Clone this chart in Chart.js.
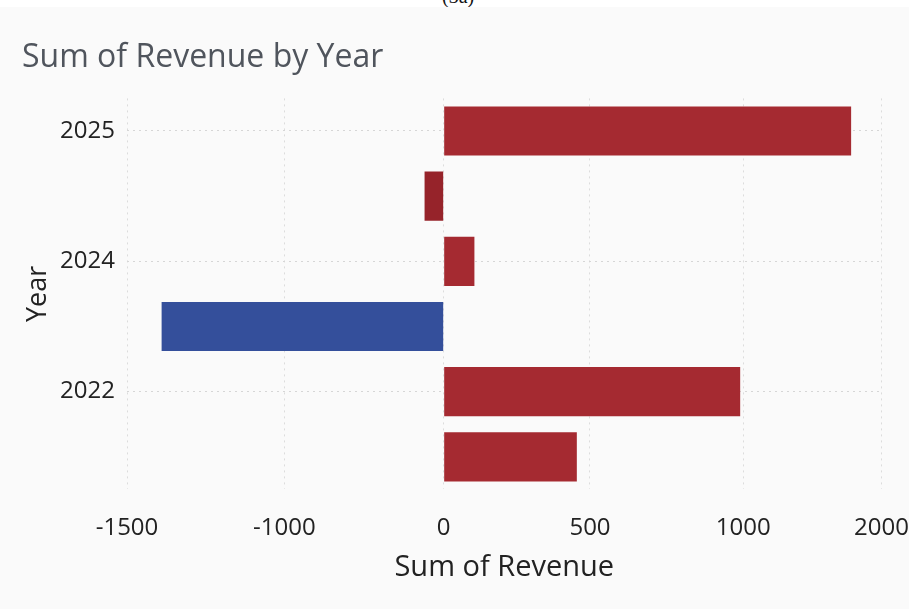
<!DOCTYPE html>
<html lang="en">
<head>
    <meta charset="UTF-8">
    <title>Sum of Revenue by Year</title>
    <script src="https://cdn.jsdelivr.net/npm/chart.js"></script>
    <style>
        html, body { margin: 0; padding: 0; background: #fafafa; }
        .caption {
            position: absolute; left: 0; top: 0; width: 909px; height: 7px;
            background: #fff; overflow: hidden; z-index: 2;
        }
        .caption span {
            position: absolute; left: 442px; top: -15px;
            font: 20px "Liberation Serif", serif; color: #111;
        }
        .chart-box { position: absolute; left: 0; top: 0; width: 909px; height: 609px; }
    </style>
</head>
<body>
    <div class="caption"><span>(3a)</span></div>
    <div class="chart-box">
        <canvas id="revenueChart"></canvas>
    </div>

<script>
    // categorias (anos) - so alguns rotulos aparecem no eixo
    const yearLabels = ['2025', '', '2024', '', '2022', ''];
    // soma da receita por barra
    const revenue = [1780, -120, 105, -1390, 990, 455];
    // rotulos do eixo x (espacados igualmente no original)
    const xTicks = [-1500, -1000, 0, 500, 1000, 2000];

    const barColors = ['#a52a31', '#96232a', '#a52a31', '#344f9b', '#a52a31', '#a52a31'];

    // escala linear por trechos: cada rotulo do eixo x fica numa posicao fixa
    class SegmentScale extends Chart.LinearScale {
        static id = 'segment';
        static defaults = { ticks: { callback: v => String(v) } };

        determineDataLimits() {
            const stops = this.options.stops;
            this.min = stops[0];
            this.max = stops[stops.length - 1];
        }
        buildTicks() {
            return this.options.stops.map(v => ({ value: v }));
        }
        getPixelForValue(value) {
            const s = this.options.stops, p = this.options.stopPos;
            let i = 0;
            while (i < s.length - 2 && value > s[i + 1]) i++;
            const t = (value - s[i]) / (s[i + 1] - s[i]);
            return this.getPixelForDecimal(p[i] + t * (p[i + 1] - p[i]));
        }
        getValueForPixel(pixel) {
            const s = this.options.stops, p = this.options.stopPos;
            const d = this.getDecimalForPixel(pixel);
            let i = 0;
            while (i < p.length - 2 && d > p[i + 1]) i++;
            return s[i] + (d - p[i]) / (p[i + 1] - p[i]) * (s[i + 1] - s[i]);
        }
    }
    Chart.register(SegmentScale);

    const ctx = document.getElementById('revenueChart').getContext('2d');
    const chart = new Chart(ctx, {
        type: 'bar',
        data: {
            labels: yearLabels,
            datasets: [{
                label: 'Sum of Revenue',
                data: revenue,
                backgroundColor: barColors,
                borderWidth: 0,
                barPercentage: 0.755,
                categoryPercentage: 1
            }]
        },
        options: {
            indexAxis: 'y',
            responsive: true,
            maintainAspectRatio: false,
            animation: false,
            layout: { padding: { left: 22, right: 2, top: 0, bottom: 20 } },
            plugins: {
                legend: { display: false },
                tooltip: { enabled: false },
                title: {
                    display: true,
                    text: 'Sum of Revenue by Year',
                    align: 'start',
                    color: '#50555d',
                    font: { family: 'Open Sans', size: 32, weight: 'normal' },
                    padding: { top: 39, bottom: 21 }
                }
            },
            scales: {
                x: {
                    type: 'segment',
                    stops: xTicks,
                    stopPos: [0, 0.2085, 0.4197, 0.6136, 0.8167, 1],
                    grid: { color: '#dcdcdc', lineWidth: 1, tickLength: 24, tickColor: 'transparent' },
                    border: { display: false, dash: [2, 4] },
                    ticks: {
                        color: '#222',
                        font: { family: 'Open Sans', size: 24 },
                        padding: 0,
                        maxRotation: 0
                    },
                    title: {
                        display: true,
                        text: 'Sum of Revenue',
                        color: '#222',
                        font: { family: 'Open Sans', size: 29 },
                        padding: { top: 8 }
                    }
                },
                y: {
                    type: 'category',
                    afterFit: s => { s.width = 105; },
                    grid: {
                        offset: false,
                        color: c => yearLabels[c.index] ? '#d6d6d6' : 'transparent',
                        drawTicks: false
                    },
                    border: { display: false, dash: [2, 4] },
                    ticks: {
                        color: '#222',
                        font: { family: 'Open Sans', size: 24 },
                        padding: 12,
                        autoSkip: false
                    },
                    title: {
                        display: true,
                        text: 'Year',
                        color: '#222',
                        font: { family: 'Open Sans', size: 27 },
                        padding: 0
                    }
                }
            }
        }
    });
</script>
</body>
</html>
